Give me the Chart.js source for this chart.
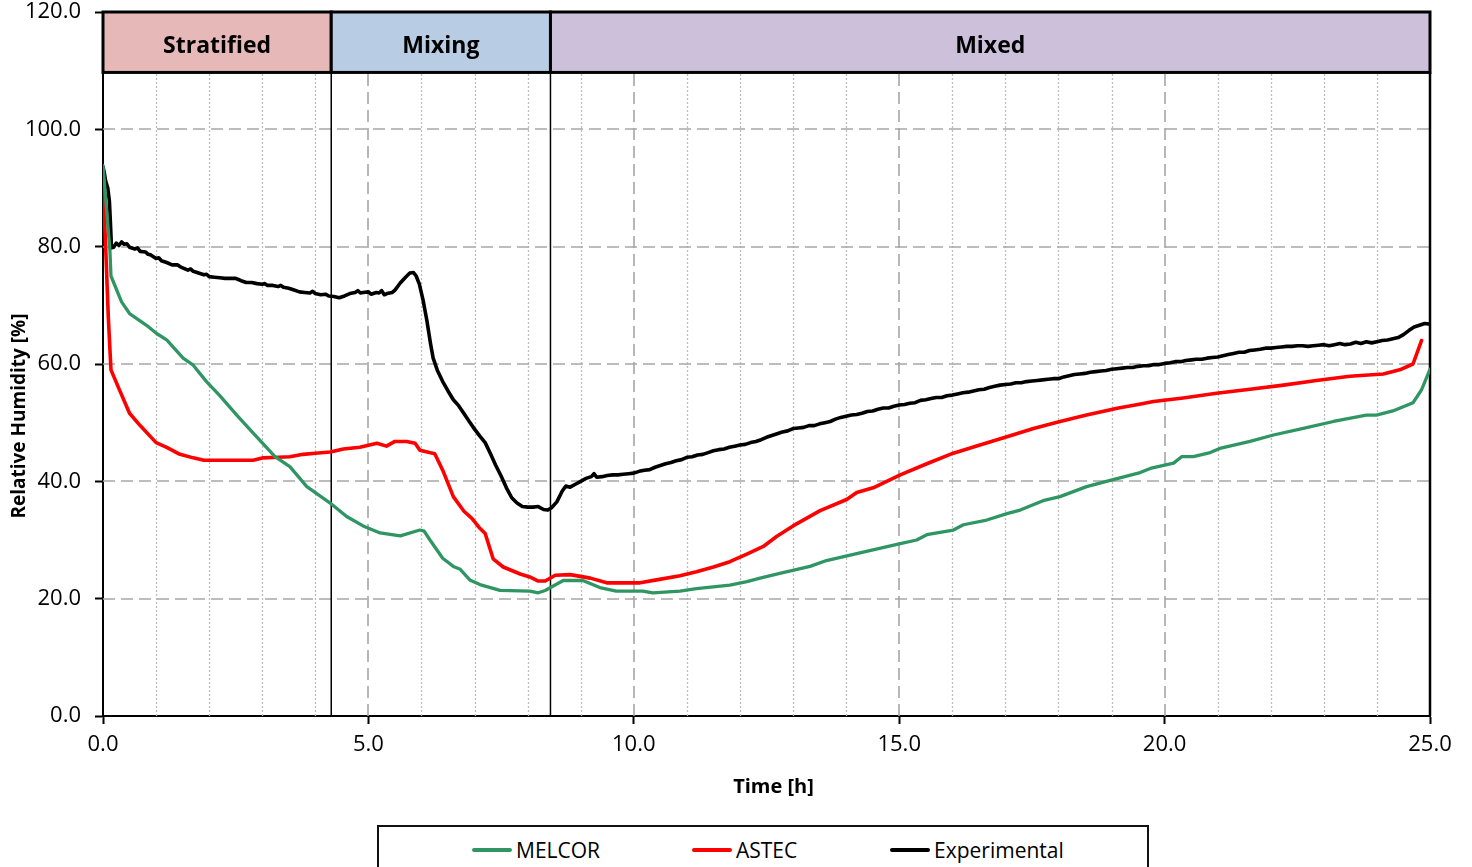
<!DOCTYPE html>
<html>
<head>
<meta charset="utf-8">
<script src="https://cdn.jsdelivr.net/npm/chart.js@4"></script>
<style>
  html, body { margin: 0; padding: 0; background: #fff; }
  #wrap { position: relative; width: 1472px; height: 867px; overflow: hidden; }
  #chart { position: absolute; left: 0; top: 0; }
  #legend {
    position: absolute; left: 377px; top: 825px; width: 772px; height: 60px;
    border: 2px solid #111; box-sizing: border-box; background: #fff;
  }
  .item { position: absolute; top: 10px; height: 26px; display: flex; align-items: center;
          font-family: "Open Sans", sans-serif; font-size: 21px; color: #000; white-space: nowrap; }
  .sw { display: inline-block; width: 40px; height: 4px; margin-right: 4px; border-radius: 2px; }
</style>
</head>
<body>
<div id="wrap">
  <canvas id="chart" width="1472" height="867"></canvas>
  <div id="legend"></div>
</div>
<script>
// Relative humidity [%] against time [h], pairs of [time, value]
const melcor = [
  [0,93.8],[0.07,86.0],[0.13,79.4],[0.15,75.0],[0.35,70.6],[0.5,68.6],[0.82,66.6],[1.01,65.2],
  [1.2,64.1],[1.51,61.0],[1.7,59.8],[1.95,57.0],[2.2,54.6],[2.52,51.3],[2.83,48.2],[3.24,44.2],
  [3.52,42.5],[3.84,39.1],[4.28,36.3],[4.59,34.0],[4.9,32.4],[5.22,31.2],[5.6,30.7],[5.97,31.7],
  [6.05,31.5],[6.16,30.0],[6.4,26.9],[6.6,25.5],[6.73,25.0],[6.91,23.2],[7.1,22.4],[7.48,21.4],
  [8.04,21.3],[8.2,21.0],[8.33,21.4],[8.67,23.1],[9.04,23.1],[9.36,21.9],[9.67,21.3],[10.17,21.3],
  [10.36,21.0],[10.87,21.3],[11.18,21.7],[11.81,22.3],[12.13,22.9],[12.38,23.5],[12.75,24.3],
  [13.32,25.5],[13.63,26.5],[14.26,27.8],[15.02,29.4],[15.33,30.0],[15.52,30.9],[16.02,31.7],
  [16.21,32.6],[16.65,33.4],[17.03,34.5],[17.28,35.1],[17.71,36.7],[18.03,37.4],[18.53,39.1],
  [19.03,40.3],[19.54,41.5],[19.73,42.2],[20.17,43.1],[20.32,44.2],[20.54,44.2],[20.86,44.9],
  [21.04,45.6],[21.61,46.8],[22.05,47.9],[22.55,48.9],[23.18,50.2],[23.8,51.3],[23.99,51.3],
  [24.3,52.0],[24.68,53.4],[24.84,55.6],[25.0,59.1]
];

const astec = [
  [0,91.0],[0.05,80.0],[0.1,68.0],[0.15,59.0],[0.3,55.8],[0.5,51.6],[0.7,49.5],[1.0,46.6],
  [1.2,45.8],[1.45,44.6],[1.7,44.0],[1.9,43.6],[2.2,43.6],[2.5,43.6],[2.83,43.6],[3.02,44.0],
  [3.3,44.1],[3.52,44.2],[3.77,44.6],[4.0,44.8],[4.28,45.0],[4.53,45.5],[4.84,45.8],[5.16,46.5],
  [5.34,46.0],[5.5,46.8],[5.72,46.8],[5.88,46.5],[5.97,45.3],[6.15,44.9],[6.25,44.7],[6.4,41.9],
  [6.6,37.4],[6.8,34.9],[6.95,33.7],[7.1,32.0],[7.2,31.1],[7.35,26.8],[7.54,25.4],[7.86,24.2],
  [8.04,23.7],[8.2,23.0],[8.33,23.0],[8.52,24.0],[8.8,24.1],[9.18,23.5],[9.49,22.7],[10.12,22.7],
  [10.43,23.2],[10.87,23.9],[11.18,24.6],[11.5,25.4],[11.81,26.3],[12.13,27.6],[12.44,28.9],
  [12.69,30.6],[13.0,32.4],[13.51,35.0],[14.01,36.9],[14.2,38.1],[14.51,38.9],[15.02,41.1],
  [15.52,43.0],[16.02,44.8],[16.52,46.2],[17.03,47.6],[17.53,49.0],[18.03,50.2],[18.53,51.3],
  [19.13,52.5],[19.5,53.1],[19.79,53.6],[20.35,54.2],[20.98,55.0],[21.61,55.7],[22.24,56.4],
  [22.86,57.2],[23.49,57.9],[24.12,58.3],[24.43,59.0],[24.68,60.0],[24.84,64.0]
];

const experimental = [
  [0,93.6],[0.02,92.8],[0.05,91.2],[0.09,90.0],[0.12,87.8],[0.14,84.0],[0.16,79.8],[0.2,79.9],
  [0.25,80.6],[0.3,80.2],[0.35,80.8],[0.4,80.4],[0.45,80.5],[0.5,79.9],[0.6,79.6],[0.65,79.8],
  [0.7,79.2],[0.8,79.1],[0.85,78.7],[0.9,78.6],[1.0,78.0],[1.05,78.1],[1.1,77.6],[1.2,77.3],
  [1.3,76.9],[1.4,76.9],[1.45,76.6],[1.5,76.4],[1.6,76.0],[1.65,76.2],[1.7,75.8],[1.8,75.5],
  [1.9,75.2],[1.95,75.3],[2.0,74.9],[2.1,74.8],[2.2,74.7],[2.3,74.6],[2.4,74.6],[2.5,74.6],
  [2.55,74.4],[2.6,74.2],[2.7,73.9],[2.8,73.9],[2.9,73.7],[3.0,73.6],[3.05,73.7],[3.1,73.4],
  [3.2,73.4],[3.3,73.2],[3.35,73.4],[3.4,73.1],[3.5,72.9],[3.6,72.6],[3.7,72.3],[3.8,72.2],
  [3.9,72.1],[3.95,72.4],[4.0,72.0],[4.1,71.8],[4.2,71.9],[4.25,71.6],[4.35,71.5],[4.45,71.3],
  [4.55,71.6],[4.65,72.0],[4.75,72.2],[4.8,72.5],[4.85,72.1],[4.9,72.2],[5.0,72.3],[5.05,71.9],
  [5.15,72.2],[5.2,72.1],[5.25,72.5],[5.3,71.8],[5.35,72.0],[5.45,72.2],[5.5,72.6],[5.6,73.8],
  [5.7,74.8],[5.78,75.5],[5.85,75.6],[5.9,75.0],[5.96,73.6],[6.03,70.9],[6.1,67.5],[6.17,63.5],
  [6.22,61.0],[6.3,58.9],[6.4,57.0],[6.5,55.4],[6.6,53.9],[6.7,52.9],[6.79,51.7],[6.9,50.2],
  [7.0,48.9],[7.1,47.7],[7.2,46.6],[7.3,44.7],[7.4,42.7],[7.5,40.9],[7.6,38.9],[7.7,37.2],
  [7.8,36.3],[7.9,35.7],[8.0,35.6],[8.1,35.6],[8.2,35.7],[8.3,35.2],[8.38,35.1],[8.45,35.5],
  [8.55,36.5],[8.65,38.3],[8.72,39.2],[8.8,39.0],[8.9,39.5],[9.0,40.0],[9.1,40.5],[9.2,40.8],
  [9.25,41.3],[9.3,40.7],[9.4,40.8],[9.5,41.0],[9.6,41.1],[9.7,41.1],[9.8,41.2],[9.9,41.3],
  [10.0,41.4],[10.1,41.7],[10.2,41.9],[10.3,42.0],[10.4,42.4],[10.5,42.7],[10.6,43.0],[10.7,43.2],
  [10.8,43.5],[10.9,43.7],[11.0,44.1],[11.1,44.2],[11.2,44.5],[11.3,44.6],[11.4,44.9],[11.5,45.2],
  [11.6,45.4],[11.7,45.5],[11.8,45.8],[11.9,46.0],[12.0,46.2],[12.1,46.3],[12.2,46.6],[12.3,46.8],
  [12.4,47.1],[12.5,47.5],[12.6,47.8],[12.7,48.1],[12.8,48.4],[12.9,48.6],[13.0,49.0],[13.1,49.1],
  [13.2,49.2],[13.3,49.5],[13.4,49.5],[13.5,49.8],[13.6,50.0],[13.7,50.2],[13.8,50.6],[13.9,50.9],
  [14.0,51.1],[14.1,51.3],[14.2,51.4],[14.3,51.6],[14.4,51.9],[14.5,52.0],[14.6,52.3],[14.7,52.5],
  [14.8,52.5],[14.9,52.8],[15.0,53.0],[15.1,53.1],[15.2,53.3],[15.3,53.4],[15.4,53.8],[15.5,53.9],
  [15.6,54.1],[15.7,54.3],[15.8,54.3],[15.9,54.6],[16.0,54.7],[16.1,54.9],[16.2,55.1],[16.3,55.2],
  [16.4,55.4],[16.5,55.6],[16.6,55.7],[16.7,56.0],[16.8,56.2],[16.9,56.4],[17.0,56.5],[17.1,56.6],
  [17.2,56.8],[17.3,56.8],[17.4,57.0],[17.5,57.1],[17.6,57.2],[17.7,57.3],[17.8,57.4],[17.9,57.5],
  [18.0,57.5],[18.1,57.8],[18.2,58.0],[18.3,58.2],[18.4,58.3],[18.5,58.4],[18.6,58.6],[18.7,58.7],
  [18.8,58.8],[18.9,58.9],[19.0,59.1],[19.1,59.2],[19.2,59.3],[19.3,59.4],[19.4,59.4],[19.5,59.6],
  [19.6,59.7],[19.7,59.7],[19.8,59.9],[19.9,59.9],[20.0,60.1],[20.1,60.2],[20.2,60.4],[20.3,60.4],
  [20.4,60.6],[20.5,60.7],[20.6,60.8],[20.7,60.8],[20.8,61.0],[20.9,61.1],[21.0,61.2],[21.1,61.4],
  [21.2,61.6],[21.3,61.8],[21.4,62.0],[21.5,62.0],[21.6,62.3],[21.7,62.4],[21.8,62.5],[21.9,62.7],
  [22.0,62.7],[22.1,62.8],[22.2,62.9],[22.3,63.0],[22.4,63.0],[22.5,63.1],[22.6,63.1],[22.7,63.0],
  [22.8,63.1],[22.9,63.2],[23.0,63.3],[23.1,63.1],[23.2,63.3],[23.3,63.5],[23.4,63.3],[23.5,63.4],
  [23.6,63.7],[23.7,63.5],[23.8,63.8],[23.9,63.6],[24.0,63.8],[24.1,64.0],[24.2,64.1],[24.3,64.3],
  [24.4,64.5],[24.5,65.0],[24.6,65.7],[24.7,66.3],[24.8,66.6],[24.9,66.9],[25.0,66.8]
];

// Flow regimes and the times [h] at which each one starts and ends
const phaseNames = ['Stratified', 'Mixing', 'Mixed'];
const phaseStart = [0, 4.3, 8.43];
const phaseEnd = [4.3, 8.43, 25];

// Axis ranges and tick steps
const xRange = [0, 25];
const yRange = [0, 120];
const xMajorStep = 5;
const xMinorStep = 1;
const yMajorStep = 20;
const bandRange = [109.7, 120];

const FONT = '"Open Sans", sans-serif';
const phaseFill = ['#E6B8B7', '#B8CCE4', '#CCC0DA'];
const toXY = arr => arr.map(p => ({ x: p[0], y: p[1] }));

// Grid, regime bands, regime boundaries and axis titles
const decorPlugin = {
  id: 'decor',
  beforeDatasetsDraw(chart) {
    const { ctx, chartArea: a, scales: { x, y } } = chart;
    const yBand = y.getPixelForValue(bandRange[0]);
    ctx.save();
    // minor vertical grid (dotted)
    ctx.strokeStyle = '#BDBDBD';
    ctx.lineWidth = 1.3;
    ctx.setLineDash([2, 2]);
    for (let h = xRange[0] + xMinorStep; h < xRange[1]; h += xMinorStep) {
      if (h % xMajorStep === 0) continue;
      const px = Math.round(x.getPixelForValue(h)) + 0.5;
      ctx.beginPath(); ctx.moveTo(px, a.bottom); ctx.lineTo(px, yBand); ctx.stroke();
    }
    // major grid (dashed)
    ctx.strokeStyle = '#A6A6A6';
    ctx.lineWidth = 1.6;
    ctx.setLineDash([12, 6]);
    for (let h = xRange[0] + xMajorStep; h < xRange[1]; h += xMajorStep) {
      const px = Math.round(x.getPixelForValue(h));
      ctx.beginPath(); ctx.moveTo(px, a.bottom); ctx.lineTo(px, yBand); ctx.stroke();
    }
    for (let v = yRange[0] + yMajorStep; v < bandRange[0]; v += yMajorStep) {
      const py = Math.round(y.getPixelForValue(v));
      ctx.beginPath(); ctx.moveTo(a.left, py); ctx.lineTo(a.right, py); ctx.stroke();
    }
    ctx.setLineDash([]);
    // regime boundaries through the plot
    ctx.strokeStyle = '#000';
    ctx.lineWidth = 1.5;
    for (let i = 1; i < phaseStart.length; i++) {
      const px = x.getPixelForValue(phaseStart[i]);
      ctx.beginPath(); ctx.moveTo(px, a.bottom); ctx.lineTo(px, yBand); ctx.stroke();
    }
    ctx.lineWidth = 2.5;
    const xr = x.getPixelForValue(xRange[1]);
    ctx.beginPath(); ctx.moveTo(xr, a.bottom); ctx.lineTo(xr, yBand); ctx.stroke();
    // regime bands
    const yTop = y.getPixelForValue(bandRange[1]);
    for (let i = 0; i < phaseNames.length; i++) {
      const x0 = x.getPixelForValue(phaseStart[i]);
      const x1 = x.getPixelForValue(phaseEnd[i]);
      ctx.fillStyle = phaseFill[i];
      ctx.fillRect(x0, yTop, x1 - x0, yBand - yTop);
      ctx.lineWidth = 3;
      ctx.strokeStyle = '#000';
      ctx.strokeRect(x0, yTop, x1 - x0, yBand - yTop);
      ctx.fillStyle = '#000';
      ctx.font = 'bold 23px ' + FONT;
      ctx.textAlign = 'center';
      ctx.textBaseline = 'middle';
      ctx.fillText(phaseNames[i], (x0 + x1) / 2, (yTop + yBand) / 2 + 4);
    }
    ctx.restore();
  },
  afterDraw(chart) {
    const { ctx, chartArea: a } = chart;
    ctx.save();
    ctx.fillStyle = '#000';
    ctx.font = 'bold 20px ' + FONT;
    ctx.textAlign = 'center';
    ctx.textBaseline = 'middle';
    ctx.fillText('Time [h]', (a.left + a.right) / 2 + 7, 787);
    ctx.translate(20, 416);
    ctx.rotate(-Math.PI / 2);
    ctx.font = 'bold 19px ' + FONT;
    ctx.fillText('Relative Humidity [%]', 0, 0);
    ctx.restore();
  }
};

const chart = new Chart(document.getElementById('chart'), {
  type: 'line',
  data: {
    datasets: [
      { label: 'MELCOR', data: toXY(melcor), borderColor: '#2F9663', borderWidth: 3.3 },
      { label: 'ASTEC', data: toXY(astec), borderColor: '#FF0000', borderWidth: 3.6 },
      { label: 'Experimental', data: toXY(experimental), borderColor: '#000000', borderWidth: 3.6 }
    ]
  },
  options: {
    responsive: false,
    devicePixelRatio: 1,
    animation: false,
    elements: { point: { radius: 0 }, line: { tension: 0, borderJoinStyle: 'round', borderCapStyle: 'round' } },
    layout: { padding: { left: 0, top: 12, right: 42, bottom: 0 } },
    plugins: { legend: { display: false }, tooltip: { enabled: false } },
    scales: {
      x: {
        type: 'linear', min: xRange[0], max: xRange[1],
        afterFit(s) { s.height = 151; s.paddingLeft = 0; s.paddingRight = 0; },
        ticks: { stepSize: xMajorStep, padding: 8, color: '#000', maxRotation: 0,
                 font: { family: FONT, size: 22 }, callback: v => v.toFixed(1) },
        grid: { drawOnChartArea: false, drawTicks: true, tickLength: 8, tickColor: '#000', tickWidth: 2 },
        border: { color: '#000', width: 2 }
      },
      y: {
        type: 'linear', min: yRange[0], max: yRange[1],
        afterFit(s) { s.width = 103; s.paddingTop = 0; s.paddingBottom = 0; },
        ticks: { stepSize: yMajorStep, padding: 14, color: '#000',
                 font: { family: FONT, size: 22 }, callback: v => v.toFixed(1) },
        grid: { drawOnChartArea: false, drawTicks: true, tickLength: 8, tickColor: '#000', tickWidth: 2 },
        border: { color: '#000', width: 2 }
      }
    }
  },
  plugins: [decorPlugin]
});

// Legend built from the datasets
const legendLeft = [470, 690, 888];
const legendEl = document.getElementById('legend');
chart.data.datasets.forEach((ds, i) => {
  const item = document.createElement('span');
  item.className = 'item';
  item.style.left = (legendLeft[i] - 377) + 'px';
  const sw = document.createElement('span');
  sw.className = 'sw';
  sw.style.background = ds.borderColor;
  item.appendChild(sw);
  item.appendChild(document.createTextNode(ds.label));
  legendEl.appendChild(item);
});
</script>
</body>
</html>
